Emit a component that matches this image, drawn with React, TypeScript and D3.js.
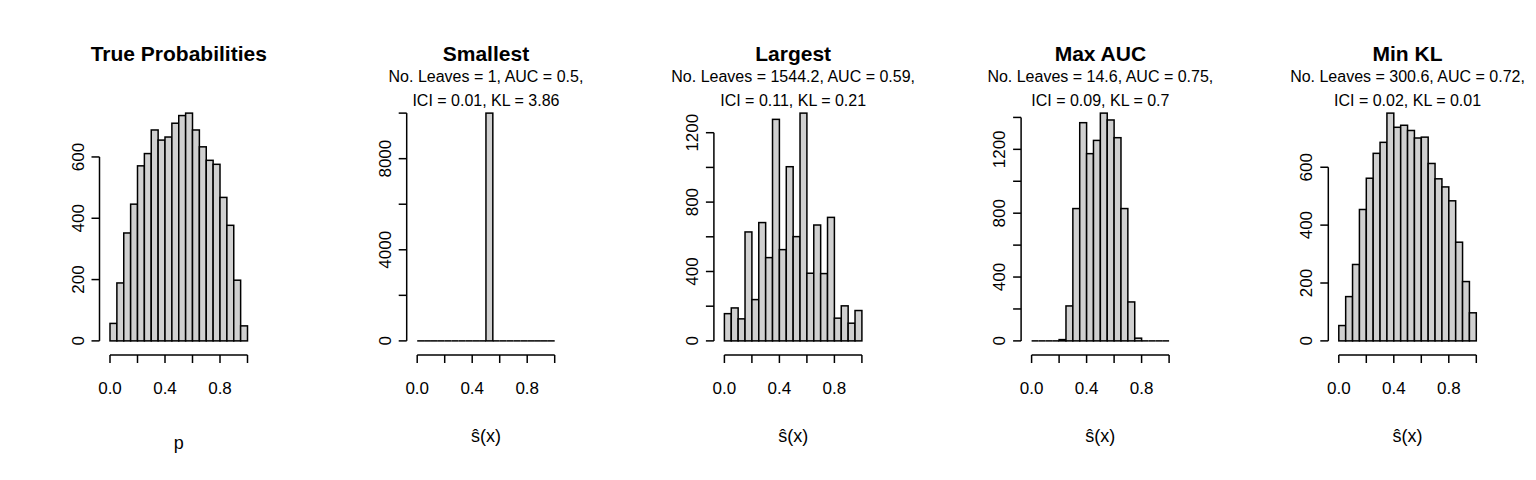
import React from "react";
import * as d3 from "d3";

const titles = ["True Probabilities", "Smallest", "Largest", "Max AUC", "Min KL"];
const sub1 = ["", "No. Leaves = 1, AUC = 0.5,", "No. Leaves = 1544.2, AUC = 0.59,", "No. Leaves = 14.6, AUC = 0.75,", "No. Leaves = 300.6, AUC = 0.72,"];
const sub2 = ["", "ICI = 0.01, KL = 3.86", "ICI = 0.11, KL = 0.21", "ICI = 0.09, KL = 0.7", "ICI = 0.02, KL = 0.01"];
const xLabels = ["p", "ŝ(x)", "ŝ(x)", "ŝ(x)", "ŝ(x)"];
const countsTrue = [57, 189, 352, 446, 571, 611, 688, 655, 665, 710, 735, 743, 688, 633, 589, 576, 468, 377, 198, 49];
const countsSmallest = [0, 0, 0, 0, 0, 0, 0, 0, 0, 0, 10000, 0, 0, 0, 0, 0, 0, 0, 0, 0];
const countsLargest = [157, 190, 127, 628, 238, 682, 480, 1277, 526, 1004, 601, 1313, 390, 668, 388, 712, 131, 202, 102, 175];
const countsMaxAUC = [0, 0, 0, 0, 8, 219, 829, 1367, 1173, 1256, 1427, 1384, 1273, 829, 244, 17, 0, 0, 0, 0];
const countsMinKL = [53, 153, 264, 454, 562, 648, 686, 787, 738, 745, 727, 701, 704, 613, 560, 532, 484, 341, 205, 97];
const allCounts = [countsTrue, countsSmallest, countsLargest, countsMaxAUC, countsMinKL];
const yTickSteps = [200, 2000, 200, 200, 200];
const yLabelSteps = [200, 4000, 400, 400, 200];
const xTicks = [0, 0.2, 0.4, 0.6, 0.8, 1.0];
const xLabelTicks = [0, 0.4, 0.8];

const font = "'Liberation Sans', Arial, Helvetica, sans-serif";

function Panel({ i }: { i: number }) {
  const counts = allCounts[i];
  const off = i * 307.2;
  const max = d3.max(counts)!;
  const x = d3.scaleLinear().domain([-0.04, 1.04]).range([104.5 + off, 253 + off]);
  const y = d3.scaleLinear().domain([-0.04 * max, 1.04 * max]).range([350, 104]);
  const bw = 0.05;
  const yTicks = d3.range(0, max + 1e-9, yTickSteps[i]);
  const axY = 355;
  const axX = 104.5 + off;
  const cx = x(0.5);
  return (
    <g fontFamily={font}>
      <text x={cx} y={61} textAnchor="middle" fontWeight="bold" fontSize={21}>{titles[i]}</text>
      <text x={cx} y={82} textAnchor="middle" fontSize={16}>{sub1[i]}</text>
      <text x={cx} y={106} textAnchor="middle" fontSize={16}>{sub2[i]}</text>
      {counts.map((c, k) => c > 0 ? (
        <rect key={k} x={x(k * bw)} y={y(c)} width={x(bw) - x(0)} height={y(0) - y(c)}
          fill="#d0d0d0" stroke="#000" strokeWidth={1.5} />
      ) : (
        <line key={k} x1={x(k * bw)} x2={x((k + 1) * bw)} y1={y(0)} y2={y(0)} stroke="#000" strokeWidth={1.5} />
      ))}
      <line x1={x(0)} x2={x(1)} y1={axY} y2={axY} stroke="#000" strokeWidth={1.5} />
      {xTicks.map(t => (
        <line key={t} x1={x(t)} x2={x(t)} y1={axY} y2={axY + 8} stroke="#000" strokeWidth={1.5} />
      ))}
      {xLabelTicks.map(t => (
        <text key={t} x={x(t)} y={394} textAnchor="middle" fontSize={17}>{t.toFixed(1)}</text>
      ))}
      <text x={cx} y={i === 0 ? 449 : 442} textAnchor="middle" fontSize={18}>{xLabels[i]}</text>
      <line x1={axX - 5} x2={axX - 5} y1={y(0)} y2={y(yTicks[yTicks.length - 1])} stroke="#000" strokeWidth={1.5} />
      {yTicks.map(t => (
        <line key={t} x1={axX - 13} x2={axX - 5} y1={y(t)} y2={y(t)} stroke="#000" strokeWidth={1.5} />
      ))}
      {yTicks.filter(t => t % yLabelSteps[i] === 0).map(t => (
        <text key={t} transform={`translate(${axX - 21},${y(t)}) rotate(-90)`} textAnchor="middle" fontSize={17}>{t}</text>
      ))}
    </g>
  );
}

export default function App() {
  return (
    <svg width={1536} height={480} style={{ position: "absolute", left: 0, top: 0, background: "#fff" }}>
      <rect width={1536} height={480} fill="#fff" />
      {titles.map((_, i) => <Panel key={i} i={i} />)}
    </svg>
  );
}
